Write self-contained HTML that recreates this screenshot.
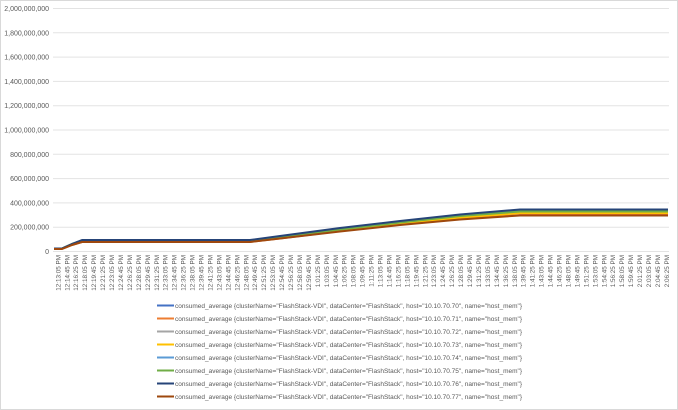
<!DOCTYPE html>
<html><head><meta charset="utf-8"><style>
body{margin:0;background:#fff;}
svg{display:block;font-family:"Liberation Sans",sans-serif;}
</style></head><body>
<svg width="678" height="410" viewBox="0 0 678 410" xmlns="http://www.w3.org/2000/svg">
<rect x="0.5" y="0.5" width="677" height="409" fill="#fff" stroke="#d9d9d9"/>
<g stroke="#e3e3e3" stroke-width="1">
<line x1="53" x2="669" y1="8.5" y2="8.5"/><line x1="53" x2="669" y1="32.8" y2="32.8"/>
<line x1="53" x2="669" y1="57.1" y2="57.1"/><line x1="53" x2="669" y1="81.4" y2="81.4"/>
<line x1="53" x2="669" y1="105.7" y2="105.7"/><line x1="53" x2="669" y1="130" y2="130"/>
<line x1="53" x2="669" y1="154.3" y2="154.3"/><line x1="53" x2="669" y1="178.6" y2="178.6"/>
<line x1="53" x2="669" y1="202.9" y2="202.9"/><line x1="53" x2="669" y1="227.2" y2="227.2"/>
<line x1="53" x2="669" y1="251.5" y2="251.5"/>
</g>
<g font-size="7" fill="#595959" text-anchor="end">
<text x="49" y="11">2,000,000,000</text><text x="49" y="35.3">1,800,000,000</text>
<text x="49" y="59.6">1,600,000,000</text><text x="49" y="83.9">1,400,000,000</text>
<text x="49" y="108.2">1,200,000,000</text><text x="49" y="132.5">1,000,000,000</text>
<text x="49" y="156.8">800,000,000</text><text x="49" y="181.1">600,000,000</text>
<text x="49" y="205.4">400,000,000</text><text x="49" y="229.7">200,000,000</text>
<text x="49" y="254">0</text>
</g>
<g fill="none" stroke-width="2" stroke-linejoin="round">
<polyline stroke="#4472c4" points="54,248.5 62,248.5 72,244 82,240.5 250,240.5 280,236.5 340,228.5 400,221.5 460,215 520,210 668,210"/>
<polyline stroke="#ed7d31" points="54,249 62,249 72,245 82,242 250,242 280,238.5 340,231 400,224.5 460,219 520,215 668,215"/>
<polyline stroke="#a5a5a5" points="54,248.5 62,248.5 72,244 82,240.5 250,240.5 280,237 340,229.5 400,222.5 460,216.5 520,212 668,212"/>
<polyline stroke="#ffc000" points="54,248.5 62,248.5 72,244 82,241 250,241 280,237.5 340,230 400,223.5 460,217.5 520,213 668,213"/>
<polyline stroke="#5b9bd5" points="54,248.5 62,248.5 72,244 82,240.5 250,240.5 280,236.5 340,229 400,222 460,215.5 520,210.5 668,210.5"/>
<polyline stroke="#70ad47" points="54,248.5 62,248.5 72,244 82,240.5 250,240.5 280,237 340,229.5 400,222.5 460,216 520,211.5 668,211.5"/>
<polyline stroke="#264478" points="54,248.5 62,248.5 72,244 82,240 250,240 280,236 340,228 400,221 460,214.5 520,209.5 668,209.5"/>
<polyline stroke="#9e480e" points="54,249 62,249 72,245 82,242 250,242 280,238.5 340,231.5 400,225 460,219.5 520,215.5 668,215.5"/>
</g>
<g font-size="6.3" fill="#595959" text-anchor="end">
<text transform="translate(60.3,255) rotate(-90)">12:13:05 PM</text>
<text transform="translate(69.25,255) rotate(-90)">12:14:45 PM</text>
<text transform="translate(78.2,255) rotate(-90)">12:16:25 PM</text>
<text transform="translate(87.15,255) rotate(-90)">12:18:05 PM</text>
<text transform="translate(96.1,255) rotate(-90)">12:19:45 PM</text>
<text transform="translate(105.05,255) rotate(-90)">12:21:25 PM</text>
<text transform="translate(114,255) rotate(-90)">12:23:05 PM</text>
<text transform="translate(122.95,255) rotate(-90)">12:24:45 PM</text>
<text transform="translate(131.9,255) rotate(-90)">12:26:25 PM</text>
<text transform="translate(140.85,255) rotate(-90)">12:28:05 PM</text>
<text transform="translate(149.8,255) rotate(-90)">12:29:45 PM</text>
<text transform="translate(158.75,255) rotate(-90)">12:31:25 PM</text>
<text transform="translate(167.7,255) rotate(-90)">12:33:05 PM</text>
<text transform="translate(176.65,255) rotate(-90)">12:34:45 PM</text>
<text transform="translate(185.6,255) rotate(-90)">12:36:25 PM</text>
<text transform="translate(194.55,255) rotate(-90)">12:38:05 PM</text>
<text transform="translate(203.5,255) rotate(-90)">12:39:45 PM</text>
<text transform="translate(212.45,255) rotate(-90)">12:41:25 PM</text>
<text transform="translate(221.4,255) rotate(-90)">12:43:05 PM</text>
<text transform="translate(230.35,255) rotate(-90)">12:44:45 PM</text>
<text transform="translate(239.3,255) rotate(-90)">12:46:25 PM</text>
<text transform="translate(248.25,255) rotate(-90)">12:48:05 PM</text>
<text transform="translate(257.2,255) rotate(-90)">12:49:45 PM</text>
<text transform="translate(266.15,255) rotate(-90)">12:51:25 PM</text>
<text transform="translate(275.1,255) rotate(-90)">12:53:05 PM</text>
<text transform="translate(284.05,255) rotate(-90)">12:54:45 PM</text>
<text transform="translate(293,255) rotate(-90)">12:56:25 PM</text>
<text transform="translate(301.95,255) rotate(-90)">12:58:05 PM</text>
<text transform="translate(310.9,255) rotate(-90)">12:59:45 PM</text>
<text transform="translate(319.85,255) rotate(-90)">1:01:25 PM</text>
<text transform="translate(328.8,255) rotate(-90)">1:03:05 PM</text>
<text transform="translate(337.75,255) rotate(-90)">1:04:45 PM</text>
<text transform="translate(346.7,255) rotate(-90)">1:06:25 PM</text>
<text transform="translate(355.65,255) rotate(-90)">1:08:05 PM</text>
<text transform="translate(364.6,255) rotate(-90)">1:09:45 PM</text>
<text transform="translate(373.55,255) rotate(-90)">1:11:25 PM</text>
<text transform="translate(382.5,255) rotate(-90)">1:13:05 PM</text>
<text transform="translate(391.45,255) rotate(-90)">1:14:45 PM</text>
<text transform="translate(400.4,255) rotate(-90)">1:16:25 PM</text>
<text transform="translate(409.35,255) rotate(-90)">1:18:05 PM</text>
<text transform="translate(418.3,255) rotate(-90)">1:19:45 PM</text>
<text transform="translate(427.25,255) rotate(-90)">1:21:25 PM</text>
<text transform="translate(436.2,255) rotate(-90)">1:23:05 PM</text>
<text transform="translate(445.15,255) rotate(-90)">1:24:45 PM</text>
<text transform="translate(454.1,255) rotate(-90)">1:26:25 PM</text>
<text transform="translate(463.05,255) rotate(-90)">1:28:05 PM</text>
<text transform="translate(472,255) rotate(-90)">1:29:45 PM</text>
<text transform="translate(480.95,255) rotate(-90)">1:31:25 PM</text>
<text transform="translate(489.9,255) rotate(-90)">1:33:05 PM</text>
<text transform="translate(498.85,255) rotate(-90)">1:34:45 PM</text>
<text transform="translate(507.8,255) rotate(-90)">1:36:25 PM</text>
<text transform="translate(516.75,255) rotate(-90)">1:38:05 PM</text>
<text transform="translate(525.7,255) rotate(-90)">1:39:45 PM</text>
<text transform="translate(534.65,255) rotate(-90)">1:41:25 PM</text>
<text transform="translate(543.6,255) rotate(-90)">1:43:05 PM</text>
<text transform="translate(552.55,255) rotate(-90)">1:44:45 PM</text>
<text transform="translate(561.5,255) rotate(-90)">1:46:25 PM</text>
<text transform="translate(570.45,255) rotate(-90)">1:48:05 PM</text>
<text transform="translate(579.4,255) rotate(-90)">1:49:45 PM</text>
<text transform="translate(588.35,255) rotate(-90)">1:51:25 PM</text>
<text transform="translate(597.3,255) rotate(-90)">1:53:05 PM</text>
<text transform="translate(606.25,255) rotate(-90)">1:54:45 PM</text>
<text transform="translate(615.2,255) rotate(-90)">1:56:25 PM</text>
<text transform="translate(624.15,255) rotate(-90)">1:58:05 PM</text>
<text transform="translate(633.1,255) rotate(-90)">1:59:45 PM</text>
<text transform="translate(642.05,255) rotate(-90)">2:01:25 PM</text>
<text transform="translate(651,255) rotate(-90)">2:03:05 PM</text>
<text transform="translate(659.95,255) rotate(-90)">2:04:45 PM</text>
<text transform="translate(668.9,255) rotate(-90)">2:06:25 PM</text>
</g>
<g stroke-width="2">
<line x1="157" x2="174" y1="305.5" y2="305.5" stroke="#4472c4"/>
<line x1="157" x2="174" y1="318.5" y2="318.5" stroke="#ed7d31"/>
<line x1="157" x2="174" y1="331.5" y2="331.5" stroke="#a5a5a5"/>
<line x1="157" x2="174" y1="344.5" y2="344.5" stroke="#ffc000"/>
<line x1="157" x2="174" y1="357.5" y2="357.5" stroke="#5b9bd5"/>
<line x1="157" x2="174" y1="370.5" y2="370.5" stroke="#70ad47"/>
<line x1="157" x2="174" y1="383.5" y2="383.5" stroke="#264478"/>
<line x1="157" x2="174" y1="396.5" y2="396.5" stroke="#9e480e"/>
</g>
<g font-size="6.6" fill="#595959">
<text x="175" y="308" textLength="347" lengthAdjust="spacingAndGlyphs">consumed_average {clusterName="FlashStack-VDI", dataCenter="FlashStack", host="10.10.70.70", name="host_mem"}</text>
<text x="175" y="321" textLength="347" lengthAdjust="spacingAndGlyphs">consumed_average {clusterName="FlashStack-VDI", dataCenter="FlashStack", host="10.10.70.71", name="host_mem"}</text>
<text x="175" y="334" textLength="347" lengthAdjust="spacingAndGlyphs">consumed_average {clusterName="FlashStack-VDI", dataCenter="FlashStack", host="10.10.70.72", name="host_mem"}</text>
<text x="175" y="347" textLength="347" lengthAdjust="spacingAndGlyphs">consumed_average {clusterName="FlashStack-VDI", dataCenter="FlashStack", host="10.10.70.73", name="host_mem"}</text>
<text x="175" y="360" textLength="347" lengthAdjust="spacingAndGlyphs">consumed_average {clusterName="FlashStack-VDI", dataCenter="FlashStack", host="10.10.70.74", name="host_mem"}</text>
<text x="175" y="373" textLength="347" lengthAdjust="spacingAndGlyphs">consumed_average {clusterName="FlashStack-VDI", dataCenter="FlashStack", host="10.10.70.75", name="host_mem"}</text>
<text x="175" y="386" textLength="347" lengthAdjust="spacingAndGlyphs">consumed_average {clusterName="FlashStack-VDI", dataCenter="FlashStack", host="10.10.70.76", name="host_mem"}</text>
<text x="175" y="399" textLength="347" lengthAdjust="spacingAndGlyphs">consumed_average {clusterName="FlashStack-VDI", dataCenter="FlashStack", host="10.10.70.77", name="host_mem"}</text>
</g>
</svg>
</body></html>
